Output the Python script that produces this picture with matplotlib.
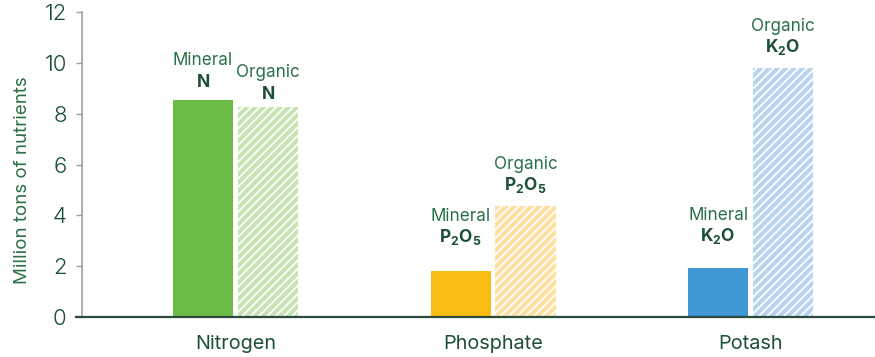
import numpy as np
import matplotlib
matplotlib.use("Agg")
import matplotlib.pyplot as plt

# Data
categories = ["Nitrogen", "Phosphate", "Potash"]
mineral = [8.55, 1.80, 1.95]
organic = [8.27, 4.36, 9.82]
mineral_labels = [r"$\mathbf{N}$", r"$\mathbf{P_2O_5}$", r"$\mathbf{K_2O}$"]
organic_labels = [r"$\mathbf{N}$", r"$\mathbf{P_2O_5}$", r"$\mathbf{K_2O}$"]

# label gaps above each bar (points), hand-placed like the original
mineral_gap = [9.5, 21, 19]
organic_gap = [6, 11.5, 11]

mineral_colors = ["#6cbd48", "#f8bd14", "#3f97d6"]
organic_colors = ["#c7e4b2", "#fde0a0", "#b8d3f0"]
text_dark = "#1c4f35"
text_green = "#2a7048"
grey = "#9aa5a0"

plt.rcParams["font.family"] = ["Inter", "DejaVu Sans"]
plt.rcParams["mathtext.fontset"] = "custom"
plt.rcParams["mathtext.bf"] = "Inter:bold"
plt.rcParams["mathtext.rm"] = "Inter"
plt.rcParams["hatch.linewidth"] = 1.3
plt.rcParams["hatch.color"] = "white"

fig = plt.figure(figsize=(8.75, 3.57), dpi=100)
ax = fig.add_axes([0.0937, 0.112, 0.9063, 0.8535])

x = np.arange(len(categories))
w = 0.233
off = 0.126

ax.bar(x - off, mineral, w, color=mineral_colors, linewidth=0)
ax.bar(x + off, organic, w, color=organic_colors, linewidth=0,
       hatch="////", edgecolor="white")

def label_bars(xs, vals, name, formulas, gaps):
    for xi, v, lab, g in zip(xs, vals, formulas, gaps):
        ax.annotate(lab, (xi, v), xytext=(0, g), textcoords="offset points",
                    ha="center", va="baseline", fontsize=12.5, color=text_dark)
        ax.annotate(name, (xi, v), xytext=(0, g + 15.5), textcoords="offset points",
                    ha="center", va="baseline", fontsize=12.3, color=text_green)

label_bars(x - off, mineral, "Mineral", mineral_labels, mineral_gap)
label_bars(x + off, organic, "Organic", organic_labels, organic_gap)

ax.set_xlim(-0.596, 2.483)
ax.set_ylim(0, 12)
ax.set_yticks(range(0, 13, 2))
ax.set_xticks(x)
ax.set_xticklabels(categories)
ax.tick_params(axis="y", length=4, width=1, color=grey, pad=7,
               labelsize=16, labelcolor=text_dark)
ax.tick_params(axis="x", length=0, pad=13, labelsize=14.3, labelcolor=text_dark)
for t in ax.get_yticklabels():
    t.set_fontweight(300)
ax.set_ylabel("Million tons of nutrients", fontsize=13.5, color=text_green)
ax.yaxis.set_label_coords(-0.064, 0.45)

for s in ["top", "right", "bottom"]:
    ax.spines[s].set_visible(False)
ax.spines["left"].set_color(grey)
ax.spines["left"].set_linewidth(1.2)
ax.axhline(0, xmin=-0.008, xmax=1, color="#2b4a3a", lw=1.6, clip_on=False, zorder=5)

fig.savefig("out.png", dpi=100)
